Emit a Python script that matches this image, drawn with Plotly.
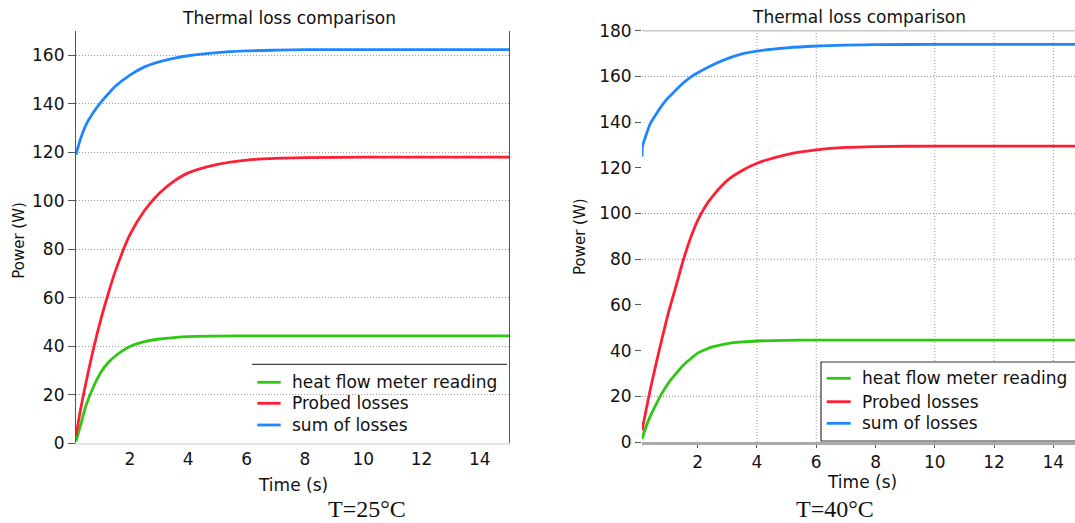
import plotly.graph_objects as go

# ---------------- data ----------------
# T = 25 °C
t_25 = [0.15, 0.3, 0.5, 0.75, 1.0, 1.25, 1.5, 2.0, 2.5, 3.0, 3.5, 4.0,
        5.0, 6.0, 7.0, 8.0, 10.0, 12.0, 15.0]
heat_flow_25 = [0.8, 7.2, 15.8, 23.3, 29.2, 33.2, 36.0, 39.9, 41.9, 43.0, 43.6, 44.0,
                44.2, 44.3, 44.3, 44.3, 44.3, 44.3, 44.3]
probed_25 = [3.0, 13.5, 25.5, 39.0, 51.0, 61.5, 71.0, 86.0, 96.0, 103.0, 108.0, 111.5,
             115.0, 116.8, 117.5, 117.8, 118.0, 118.0, 118.0]
sum_25 = [119.0, 125.3, 131.5, 136.5, 140.6, 144.0, 147.2, 151.8, 155.2, 157.3, 158.7, 159.8,
          161.1, 161.8, 162.1, 162.3, 162.3, 162.3, 162.3]

# T = 40 °C
t_40 = [0.12, 0.25, 0.4, 0.6, 0.8, 1.0, 1.25, 1.5, 1.75, 2.0, 2.25, 2.5, 3.0, 3.5, 4.0,
        5.0, 6.0, 7.0, 8.0, 10.0, 12.0, 14.8]
heat_flow_40 = [1.3, 6.5, 11.3, 16.6, 21.5, 25.6, 29.7, 33.4, 36.3, 38.9, 40.4, 41.6, 43.1, 43.8, 44.2,
                44.5, 44.6, 44.6, 44.6, 44.6, 44.6, 44.6]
probed_40 = [5.0, 13.5, 23.0, 34.5, 45.5, 56.0, 67.5, 79.0, 89.0, 97.0, 103.0, 107.5, 114.5, 118.8, 122.0,
             125.8, 127.8, 128.9, 129.3, 129.5, 129.5, 129.5]
t_40_sum = [0.12, 0.14, 0.25, 0.4, 0.6, 0.8, 1.0, 1.25, 1.5, 1.75, 2.0, 2.5, 3.0, 3.5, 4.0,
            5.0, 6.0, 7.0, 8.0, 10.0, 12.0, 14.8]
sum_40 = [125.0, 129.5, 134.0, 139.3, 143.5, 147.4, 150.6, 153.8, 157.0, 159.6, 161.6, 165.0,
          167.8, 169.9, 171.1, 172.5, 173.3, 173.7, 173.9, 174.0, 174.0, 174.0]

series_names = ["heat flow meter reading", "Probed losses", "sum of losses"]
series_colors = ["#2ec712", "#ff1f35", "#1f86ff"]

x_ticks = [2, 4, 6, 8, 10, 12, 14]
y_ticks_25 = [0, 20, 40, 60, 80, 100, 120, 140, 160]
y_ticks_40 = [0, 20, 40, 60, 80, 100, 120, 140, 160, 180]
grid_y_40 = [20, 80, 100, 160]
grid_x_40 = [4, 6, 10, 12, 14]

title_text = "Thermal loss comparison"
x_title = "Time (s)"
y_title = "Power (W)"
captions = ["T=25°C", "T=40°C"]

# ---------------- layout helpers ----------------
W, H = 1075, 523
FONT = "DejaVu Sans"


def fx(p):
    return p / W


def fy(p):
    return 1 - p / H


fig = go.Figure()

left_sets = [(t_25, heat_flow_25), (t_25, probed_25), (t_25, sum_25)]
right_sets = [(t_40, heat_flow_40), (t_40, probed_40), (t_40_sum, sum_40)]

for (tx, vals), name, col in zip(left_sets, series_names, series_colors):
    fig.add_trace(go.Scatter(x=tx, y=vals, mode="lines", name=name, showlegend=False,
                             line=dict(color=col, width=2.8, shape="spline", smoothing=0.8),
                             xaxis="x", yaxis="y"))

for (tx, vals), name, col in zip(right_sets, series_names, series_colors):
    fig.add_trace(go.Scatter(x=tx, y=vals, mode="lines", name=name, showlegend=False,
                             line=dict(color=col, width=2.8, shape="spline", smoothing=0.8),
                             xaxis="x2", yaxis="y2"))

tick_font = dict(family=FONT, size=17, color="#111")

shapes = []
# grid of the right panel
for gy in grid_y_40:
    shapes.append(dict(type="line", xref="x2 domain", yref="y2", x0=0, x1=1, y0=gy, y1=gy,
                       line=dict(color="#888", width=1, dash="1px,2px"), layer="below"))
for gx in grid_x_40:
    shapes.append(dict(type="line", xref="x2", yref="y2 domain", x0=gx, x1=gx, y0=0, y1=1,
                       line=dict(color="#999", width=1, dash="1px,2px"), layer="below"))
# top frame line of the right panel
shapes.append(dict(type="line", xref="x2 domain", yref="y2 domain", x0=0, x1=1, y0=1, y1=1,
                   line=dict(color="#c8c8c8", width=1.5), layer="above"))
# legend frames
shapes.append(dict(type="rect", xref="paper", yref="paper",
                   x0=fx(252), x1=fx(509), y0=fy(443.3), y1=fy(364.3),
                   fillcolor="white", line=dict(width=0), layer="between"))
shapes.append(dict(type="line", xref="paper", yref="paper",
                   x0=fx(252), x1=fx(507), y0=fy(364.3), y1=fy(364.3),
                   line=dict(color="#444", width=1.2), layer="above"))
shapes.append(dict(type="rect", xref="paper", yref="paper",
                   x0=fx(821), x1=fx(1085), y0=fy(441), y1=fy(362),
                   fillcolor="white", line=dict(color="#333", width=1.2), layer="between"))

annotations = [
    dict(text=title_text, x=fx(289), y=fy(18), xref="paper", yref="paper",
         showarrow=False, xanchor="center", yanchor="middle",
         font=dict(family=FONT, size=17, color="#111")),
    dict(text=title_text, x=fx(859), y=fy(17), xref="paper", yref="paper",
         showarrow=False, xanchor="center", yanchor="middle",
         font=dict(family=FONT, size=17, color="#111")),
    dict(text=x_title, x=fx(292.5), y=fy(484.5), xref="paper", yref="paper",
         showarrow=False, xanchor="center", yanchor="middle",
         font=dict(family=FONT, size=17, color="#111")),
    dict(text=x_title, x=fx(861.7), y=fy(481.5), xref="paper", yref="paper",
         showarrow=False, xanchor="center", yanchor="middle",
         font=dict(family=FONT, size=17, color="#111")),
    dict(text=y_title, x=fx(18.3), y=fy(240.5), xref="paper", yref="paper",
         showarrow=False, xanchor="center", yanchor="middle", textangle=-90,
         font=dict(family=FONT, size=15, color="#111")),
    dict(text=y_title, x=fx(580), y=fy(237), xref="paper", yref="paper",
         showarrow=False, xanchor="center", yanchor="middle", textangle=-90,
         font=dict(family=FONT, size=15, color="#111")),
    dict(text=captions[0], x=fx(367), y=fy(508.5), xref="paper", yref="paper",
         showarrow=False, xanchor="center", yanchor="middle",
         font=dict(family="Liberation Serif", size=24, color="#111")),
    dict(text=captions[1], x=fx(835), y=fy(508.5), xref="paper", yref="paper",
         showarrow=False, xanchor="center", yanchor="middle",
         font=dict(family="Liberation Serif", size=24, color="#111")),
]

# legend entries: key line plus label, one block per panel
legend_blocks = [
    dict(key_x0=257.3, key_x1=280.7, text_x=290.0, rows=[382.3, 403.3, 425.0]),
    dict(key_x0=826.7, key_x1=850.7, text_x=860.0, rows=[378.3, 401.7, 423.3]),
]
for blk in legend_blocks:
    for name, col, row in zip(series_names, series_colors, blk["rows"]):
        shapes.append(dict(type="line", xref="paper", yref="paper",
                           x0=fx(blk["key_x0"]), x1=fx(blk["key_x1"]),
                           y0=fy(row), y1=fy(row),
                           line=dict(color=col, width=2.8), layer="above"))
        annotations.append(dict(text=name, x=fx(blk["text_x"]), y=fy(row),
                                xref="paper", yref="paper", showarrow=False,
                                xanchor="left", yanchor="middle",
                                font=dict(family=FONT, size=17, color="#111")))

fig.update_layout(
    width=W, height=H, autosize=False,
    margin=dict(l=0, r=0, t=0, b=0, pad=0, autoexpand=False),
    paper_bgcolor="white", plot_bgcolor="white",
    font=dict(family=FONT, size=17, color="#111"),
    xaxis=dict(domain=[fx(76), fx(509)], range=[0.15, 15], anchor="y",
               tickvals=x_ticks, ticks="", showgrid=False, zeroline=False,
               showline=True, linecolor="#e4e4e4", linewidth=1.5,
               tickfont=tick_font, automargin=False),
    yaxis=dict(domain=[fy(443.3), fy(31)], range=[0, 170], anchor="x",
               tickvals=y_ticks_25, ticks="outside", ticklen=7, tickcolor="#555",
               showline=True, linecolor="#555", linewidth=1.2, mirror=True,
               showgrid=True, gridcolor="#999", gridwidth=1, griddash="1px,2px",
               zeroline=False, tickfont=tick_font, automargin=False),
    xaxis2=dict(domain=[fx(642), 1.0], range=[0.12, 14.73], anchor="y2",
                tickvals=x_ticks, ticks="outside", ticklen=3, tickcolor="#555",
                showgrid=False, zeroline=False,
                showline=True, linecolor="#aaa", linewidth=2.5,
                tickfont=tick_font, automargin=False),
    yaxis2=dict(domain=[fy(442), fy(30.7)], range=[0, 180], anchor="x2",
                tickvals=y_ticks_40, ticks="outside", ticklen=6, tickcolor="#555",
                showline=False, showgrid=False, zeroline=False,
                tickfont=tick_font, automargin=False),
    shapes=shapes,
    annotations=annotations,
    showlegend=False,
)

fig.write_html("out.html")
